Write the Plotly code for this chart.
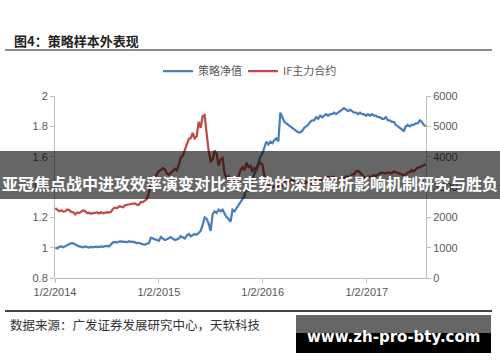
import plotly.graph_objects as go
import pandas as pd

# 策略净值 (weekly, left axis)
nav_2014 = [1.000, 0.995, 1.005, 1.008, 1.003,
            1.010, 1.015, 1.025, 1.030,
            1.028, 1.020, 1.012, 1.008,
            1.005, 1.002, 1.008, 1.004,
            1.000, 1.005, 1.002, 1.006, 1.003,
            1.004, 1.008, 1.006, 1.010,
            1.012, 1.008, 1.020, 1.035,
            1.038, 1.034, 1.040, 1.042, 1.038,
            1.040, 1.036, 1.042, 1.038,
            1.040, 1.035, 1.030, 1.032, 1.025,
            1.022, 1.020, 1.025, 1.030,
            1.065, 1.060, 1.055, 1.050]
nav_2015 = [1.045, 1.070, 1.060, 1.050, 1.055,
            1.065, 1.070, 1.060, 1.050,
            1.055, 1.060, 1.075, 1.065,
            1.060, 1.080, 1.090, 1.075,
            1.080, 1.090, 1.085, 1.100, 1.110,
            1.150, 1.200, 1.190, 1.160,
            1.110, 1.220, 1.240, 1.230, 1.250,
            1.240, 1.250, 1.220, 1.200,
            1.190, 1.170, 1.250, 1.240,
            1.260, 1.280, 1.300, 1.320, 1.340,
            1.400, 1.370, 1.420, 1.450,
            1.480, 1.520, 1.560, 1.600]
nav_2016 = [1.62, 1.66, 1.70, 1.68, 1.70,
            1.69, 1.71, 1.72, 1.70,
            1.89, 1.86, 1.83, 1.82,
            1.81, 1.80, 1.79, 1.78, 1.77,
            1.76, 1.76, 1.77, 1.79,
            1.80, 1.81, 1.83, 1.84,
            1.84, 1.86, 1.85, 1.87, 1.86,
            1.87, 1.88, 1.87, 1.88,
            1.88, 1.89, 1.88, 1.89, 1.90,
            1.91, 1.92, 1.91, 1.90,
            1.91, 1.90, 1.89, 1.89,
            1.88, 1.89, 1.88, 1.88, 1.87]
nav_2017 = [1.88, 1.87, 1.88, 1.87,
            1.87, 1.86, 1.86, 1.85,
            1.85, 1.86, 1.84, 1.84, 1.83,
            1.83, 1.81, 1.80, 1.79,
            1.78, 1.77, 1.80, 1.81,
            1.80, 1.81, 1.81, 1.82, 1.82,
            1.84, 1.83, 1.81, 1.80]

# IF主力合约 (weekly, right axis)
if_2014 = [2300, 2240, 2200, 2230, 2190,
           2200, 2260, 2240, 2180,
           2170, 2100, 2160, 2140,
           2190, 2230, 2200, 2140,
           2150, 2120, 2140, 2150, 2160,
           2130, 2170, 2130, 2160,
           2170, 2160, 2180, 2290,
           2320, 2300, 2360, 2350, 2330,
           2400, 2420, 2430, 2440,
           2450, 2460, 2410, 2420, 2510,
           2500, 2550, 2600, 2800,
           3150, 3200, 3300, 3400]
if_2015 = [3530, 3560, 3620, 3580, 3450,
           3400, 3480, 3530, 3600,
           3550, 3730, 3970, 4030,
           4230, 4370, 4580, 4610,
           4780, 4600, 4670, 5150, 4950,
           5330, 5370, 4760, 4200,
           3850, 3900, 4200, 4100, 3700,
           3900, 3950, 3450, 3300,
           3350, 3200, 3250, 3200,
           3200, 3350, 3550, 3650, 3550,
           3800, 3650, 3700, 3500,
           3650, 3550, 3750, 3800]
if_2016 = [3730, 3350, 3150, 3100, 2950,
           3000, 3000, 3100, 2950,
           3100, 3050, 3200, 3200,
           3220, 3170, 3270, 3180, 3150,
           3120, 3070, 3050, 3060,
           3170, 3150, 3150, 3100,
           3150, 3200, 3250, 3220, 3200,
           3200, 3320, 3340, 3310,
           3310, 3330, 3230, 3250, 3250,
           3250, 3300, 3350, 3340,
           3330, 3420, 3420, 3520,
           3530, 3480, 3380, 3320, 3310]
if_2017 = [3350, 3320, 3370, 3390,
           3360, 3410, 3450, 3470,
           3450, 3440, 3480, 3470, 3450,
           3510, 3490, 3470, 3440,
           3410, 3390, 3420, 3480,
           3490, 3560, 3510, 3590, 3650,
           3650, 3690, 3720, 3750]

tick_dates = ["2014-01-02", "2015-01-02", "2016-01-02", "2017-01-02"]
tick_labels = ["1/2/2014", "1/2/2015", "1/2/2016", "1/2/2017"]

nav = nav_2014 + nav_2015 + nav_2016 + nav_2017
ifc = if_2014 + if_2015 + if_2016 + if_2017
dates = pd.date_range("2014-01-03", periods=len(nav), freq="7D")

W, H = 500, 362
L, R, T, B = 55, 426, 96, 278


def px(x):
    return (x - L) / (R - L)


def py(y):
    return (B - y) / (B - T)


AX = "#bfbfbf"
TXT = "#595959"
TICKFONT = dict(family="Liberation Sans, Arial, sans-serif", size=11, color=TXT)
LEGFONT = dict(family="Noto Sans CJK SC", size=11, color=TXT)

fig = go.Figure()
fig.add_trace(go.Scatter(x=dates, y=ifc, name="IF主力合约", mode="lines",
                         line=dict(color="#be4b48", width=2.25), yaxis="y2",
                         legend="legend2"))
fig.add_trace(go.Scatter(x=dates, y=nav, name="策略净值", mode="lines",
                         line=dict(color="#4a7ebb", width=2.25), yaxis="y",
                         legend="legend"))

fig.update_layout(
    width=W, height=H, autosize=False,
    margin=dict(l=L, r=W - R, t=T, b=H - B, pad=0),
    paper_bgcolor="white", plot_bgcolor="white",
    xaxis=dict(type="date", range=["2014-01-02", "2017-07-29"],
               tickvals=tick_dates, ticktext=tick_labels,
               ticks="outside", ticklen=4, tickcolor=AX,
               showline=True, linecolor=AX, linewidth=1,
               showgrid=False, zeroline=False, tickfont=TICKFONT),
    yaxis=dict(range=[0.8, 2.0], tick0=0.8, dtick=0.2,
               ticks="outside", ticklen=4, tickcolor=AX,
               showline=True, linecolor=AX, linewidth=1,
               showgrid=False, zeroline=False, tickfont=TICKFONT),
    yaxis2=dict(range=[0, 6000], tick0=0, dtick=1000, tickformat="d",
                overlaying="y", side="right",
                ticks="outside", ticklen=4, tickcolor=AX,
                showline=True, linecolor=AX, linewidth=1,
                showgrid=False, zeroline=False, tickfont=TICKFONT),
    showlegend=True,
    legend=dict(orientation="h", x=px(158), y=py(71), xanchor="left",
                yanchor="middle", bgcolor="rgba(0,0,0,0)", itemwidth=30,
                font=LEGFONT),
    legend2=dict(orientation="h", x=px(243), y=py(71), xanchor="left",
                 yanchor="middle", bgcolor="rgba(0,0,0,0)", itemwidth=30,
                 font=LEGFONT),
)

shapes = [
    dict(type="line", xref="paper", yref="paper", x0=px(5), x1=px(492),
         y0=py(50), y1=py(50), line=dict(color="#8c8c8c", width=2)),
    dict(type="line", xref="paper", yref="paper", x0=px(5), x1=px(492),
         y0=py(311), y1=py(311), line=dict(color="#444444", width=2)),
    dict(type="rect", xref="paper", yref="paper", x0=px(0), x1=px(500),
         y0=py(199), y1=py(151), fillcolor="rgba(0,0,0,0.6)",
         line=dict(width=0), layer="above"),
    dict(type="rect", xref="paper", yref="paper", x0=px(296), x1=px(491),
         y0=py(333), y1=py(315), fillcolor="#666666",
         line=dict(width=0), layer="above"),
    dict(type="rect", xref="paper", yref="paper", x0=px(296), x1=px(491),
         y0=py(353), y1=py(333), fillcolor="#000000",
         line=dict(width=0), layer="above"),
]

annotations = [
    dict(text="<b>图4：策略样本外表现</b>", xref="paper", yref="paper",
         x=px(12), y=py(40), xanchor="left", yanchor="middle", showarrow=False,
         font=dict(family="Noto Sans CJK SC", size=13, color="#222222")),
    dict(text="数据来源：广发证券发展研究中心，天软科技", xref="paper", yref="paper",
         x=px(8), y=py(324), xanchor="left", yanchor="middle", showarrow=False,
         font=dict(family="Noto Sans CJK SC", size=12.5, color="#333333")),
    dict(text="<b>亚冠焦点战中进攻效率演变对比赛走势的深度解析影响机制研究与胜负</b>",
         xref="paper", yref="paper", x=px(250), y=py(183), xanchor="center",
         yanchor="middle", showarrow=False,
         font=dict(family="Noto Sans CJK SC", size=16, color="white")),
    dict(text="<b>www.zh-pro-bty.com</b>", xref="paper", yref="paper",
         x=px(393), y=py(337), xanchor="center", yanchor="middle",
         showarrow=False,
         font=dict(family="DejaVu Sans", size=15, color="white")),
]

fig.update_layout(shapes=shapes, annotations=annotations)
fig.write_html("out.html")
